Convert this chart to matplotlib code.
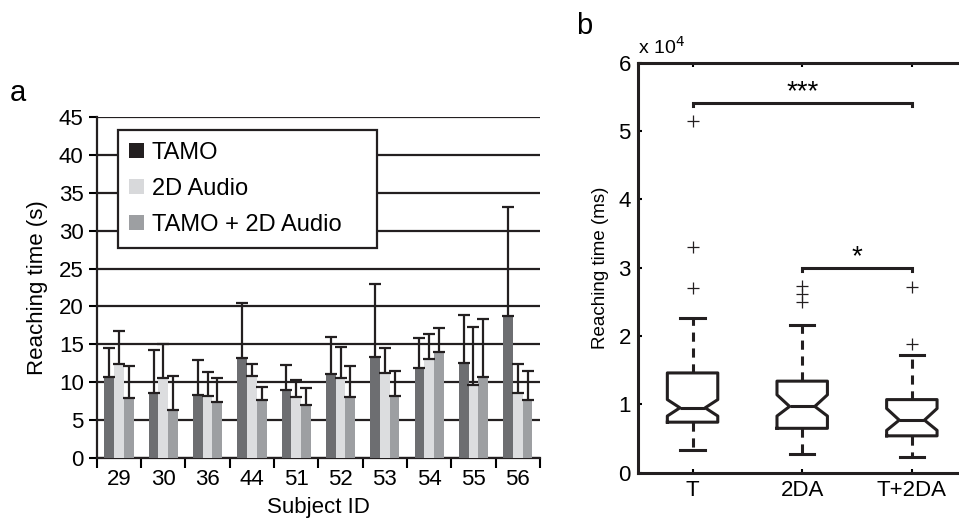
import numpy as np
import matplotlib.pyplot as plt
from matplotlib.patches import Patch
from matplotlib.ticker import FuncFormatter

plt.rcParams['font.family'] = ['Liberation Sans', 'DejaVu Sans']

# panel a: mean reaching time (s) and SD per subject
subjects = ['29', '30', '36', '44', '51', '52', '53', '54', '55', '56']
tamo_mean = [10.7, 8.6, 8.3, 13.2, 9.0, 11.1, 13.3, 11.9, 12.5, 18.8]
tamo_sd = [3.8, 5.6, 4.6, 7.3, 3.3, 4.9, 9.6, 3.9, 6.4, 14.3]
audio_mean = [12.4, 10.5, 8.2, 10.8, 8.1, 10.5, 11.2, 13.1, 9.6, 8.6]
audio_sd = [4.4, 4.5, 3.2, 1.6, 2.2, 4.1, 3.3, 3.3, 7.7, 3.8]
combo_mean = [7.9, 6.3, 7.4, 7.7, 7.0, 8.1, 8.2, 14.0, 10.7, 7.7]
combo_sd = [4.3, 4.5, 3.1, 1.7, 2.2, 4.1, 3.3, 3.2, 7.6, 3.8]
series_names = ['TAMO', '2D Audio', 'TAMO + 2D Audio']

# panel b: box plot stats (ms)
conditions = ['T', '2DA', 'T+2DA']
q1 = [7400, 6500, 5400]
median = [9500, 9700, 7700]
q3 = [14600, 13400, 10700]
whisk_lo = [3300, 2800, 2300]
whisk_hi = [22700, 21600, 17200]
notch_lo = [8300, 8300, 6200]
notch_hi = [10700, 11400, 9400]
outliers = [[27000, 33000, 51400], [25000, 26100, 27300], [18900, 27200]]
sig_pairs = [(1, 3), (2, 3)]
sig_height = [54100, 29900]
sig_text = ['***', '*']

fig = plt.figure(figsize=(9.59, 5.30), dpi=100)

# ---------------- panel a ----------------
ax1 = fig.add_axes([0.101, 0.136, 0.462, 0.643])
x = np.arange(len(subjects))
w = 0.22
bar_cols = ['#6d6e71', '#dcdddf', '#9d9fa2']
means = [tamo_mean, audio_mean, combo_mean]
sds = [tamo_sd, audio_sd, combo_sd]
for k in range(3):
    ax1.bar(x + (k - 1) * w, means[k], width=w, color=bar_cols[k],
            yerr=[np.zeros(len(x)), sds[k]], capsize=4,
            error_kw=dict(ecolor='#231f20', elinewidth=1.6, capthick=1.6),
            zorder=3)

ax1.set_xlim(-0.5, len(subjects) - 0.5)
ax1.set_ylim(0, 45)
ax1.set_yticks(np.arange(0, 46, 5))
ax1.yaxis.grid(True, color='#231f20', lw=1.6)
ax1.set_axisbelow(True)
ax1.set_xticks(np.arange(-0.5, len(subjects), 1.0))
ax1.set_xticklabels([])
ax1.set_xticks(x, minor=True)
ax1.set_xticklabels(subjects, minor=True)
ax1.tick_params(axis='x', which='major', direction='out', length=7, width=1.5)
ax1.tick_params(axis='x', which='minor', length=0, pad=8, labelsize=16)
ax1.tick_params(axis='y', direction='out', length=6, width=1.5, labelsize=16)
for s in ['top', 'right']:
    ax1.spines[s].set_visible(False)
for s in ['left', 'bottom']:
    ax1.spines[s].set_linewidth(1.6)
    ax1.spines[s].set_color('#231f20')
ax1.set_ylabel('Reaching time (s)', fontsize=16, labelpad=8)
ax1.set_xlabel('Subject ID', fontsize=16, labelpad=5)

leg_cols = ['#231f20', '#d8d9db', '#9d9fa2']
handles = [Patch(facecolor=c, edgecolor='none') for c in leg_cols]
leg = ax1.legend(handles, series_names, loc='upper left',
                 bbox_to_anchor=(0.047, 0.962, 0.585, 0.0), mode='expand',
                 borderaxespad=0, fontsize=17, frameon=True,
                 fancybox=False, edgecolor='#231f20', framealpha=1,
                 handlelength=0.6, handleheight=0.6, handletextpad=0.35,
                 labelspacing=0.6, borderpad=0.5)
leg.get_frame().set_linewidth(1.6)
leg.set_zorder(10)

fig.text(0.010, 0.81, 'a', fontsize=21)

# ---------------- panel b ----------------
ax2 = fig.add_axes([0.665, 0.108, 0.343, 0.774])
stats = []
for i in range(3):
    stats.append(dict(med=median[i], q1=q1[i], q3=q3[i],
                      whislo=whisk_lo[i], whishi=whisk_hi[i],
                      cilo=notch_lo[i], cihi=notch_hi[i],
                      fliers=outliers[i], label=conditions[i]))
ax2.bxp(stats, positions=[1, 2, 3], widths=0.46, shownotches=True,
        capwidths=0.22,
        boxprops=dict(color='#231f20', lw=2.2),
        medianprops=dict(color='#231f20', lw=2.2),
        whiskerprops=dict(color='#231f20', lw=2.2, linestyle=(0, (3.0, 2.2))),
        capprops=dict(color='#231f20', lw=2.2),
        flierprops=dict(marker='+', markersize=8, markeredgecolor='#231f20',
                        markeredgewidth=0.9, linestyle='none'))

for (a, b), h, t in zip(sig_pairs, sig_height, sig_text):
    d = 400
    ax2.plot([a, a, b, b], [h - d, h, h, h - d], color='#231f20', lw=2.2,
             solid_joinstyle='miter')
    ax2.text((a + b) / 2, h - 300, t, ha='center', va='bottom', fontsize=20)

ax2.set_xlim(0.5, 3.5)
ax2.set_ylim(0, 60000)
ax2.set_yticks(np.arange(0, 60001, 10000))
ax2.yaxis.set_major_formatter(FuncFormatter(lambda v, p: f'{v / 1e4:g}'))
ax2.set_xticks([1, 2, 3])
ax2.set_xticklabels(conditions)
ax2.tick_params(direction='in', length=3, width=1.5, top=True, right=True,
                labelsize=16, pad=5)
for s in ax2.spines.values():
    s.set_linewidth(2.2)
    s.set_color('#231f20')
ax2.set_ylabel('Reaching time (ms)', fontsize=13.5, labelpad=7)
ax2.text(0.0, 1.012, 'x 10$^4$', transform=ax2.transAxes, fontsize=14,
         ha='left', va='bottom')

fig.text(0.601, 0.935, 'b', fontsize=21)

fig.savefig('out.png', dpi=100)
